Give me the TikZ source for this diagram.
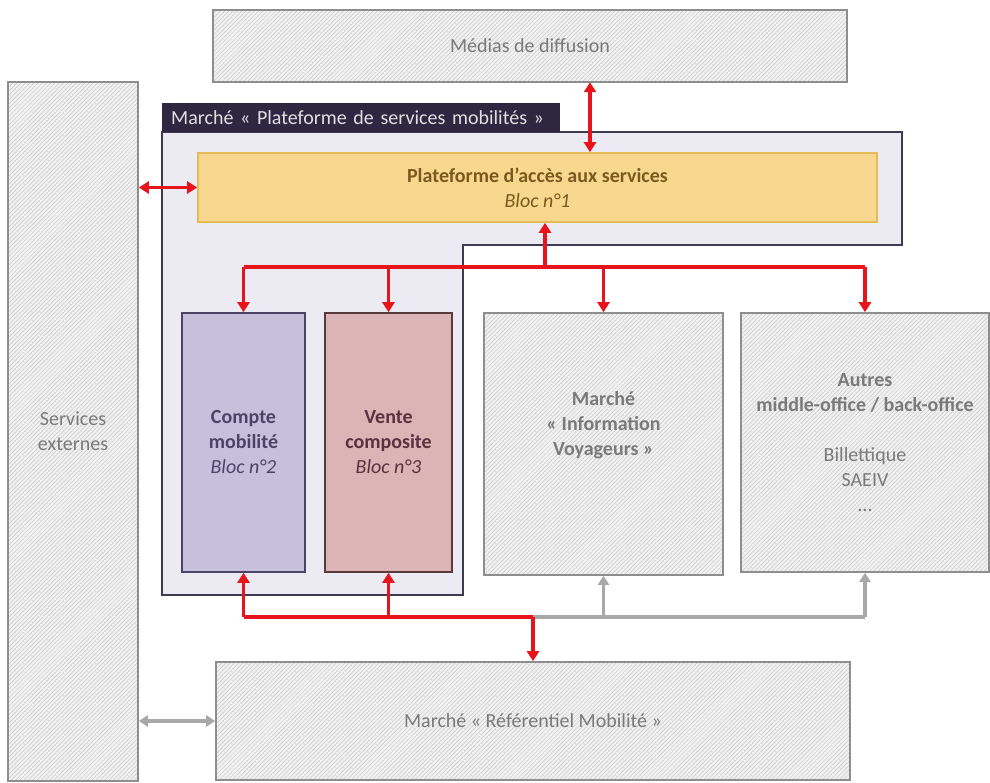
\documentclass[tikz,border=0pt]{standalone}
\usepackage{fontspec}
\setmainfont{Carlito}
\usetikzlibrary{arrows.meta,patterns.meta,calc}

\definecolor{rougeflux}{HTML}{E8141C}
\definecolor{grisflux}{HTML}{A8A8A8}
\definecolor{grisfond}{HTML}{F1F1F1}
\definecolor{grishachure}{HTML}{C8C8C8}
\definecolor{griscadre}{HTML}{8E8E8E}
\definecolor{gristexte}{HTML}{7A7A7A}
\definecolor{marchefond}{HTML}{ECEAF3}
\definecolor{marchecadre}{HTML}{3E3A52}
\definecolor{marchetitre}{HTML}{2E2742}
\definecolor{jaunefond}{HTML}{F8D88E}
\definecolor{jaunecadre}{HTML}{E3BC55}
\definecolor{jaunetexte}{HTML}{7A5A1E}
\definecolor{comptefond}{HTML}{C6C0DC}
\definecolor{comptecadre}{HTML}{4B4565}
\definecolor{ventefond}{HTML}{DDB4B5}
\definecolor{ventecadre}{HTML}{5A3B3D}
\definecolor{ventetexte}{HTML}{5B3040}

\tikzset{
  hachure/.style={draw=griscadre, line width=1.6pt, preaction={fill=grisfond},
    pattern={Lines[angle=45,distance=3pt,line width=0.5pt]}, pattern color=grishachure,
    text=gristexte, align=center, inner sep=0pt, font=\fontsize{20}{25}\selectfont},
  bloc/.style={line width=1.6pt, align=center, inner sep=0pt, font=\fontsize{20}{25}\selectfont},
  flux rouge/.style={draw=rougeflux, line width=3.5pt},
  fleche rouge/.style={flux rouge, -{Triangle[length=10pt,width=12pt]}},
  double rouge/.style={flux rouge, {Triangle[length=10pt,width=12pt]}-{Triangle[length=10pt,width=12pt]}},
  flux gris/.style={draw=grisflux, line width=3.5pt},
  fleche grise/.style={flux gris, -{Triangle[length=9pt,width=11pt]}},
  double grise/.style={flux gris, {Triangle[length=9pt,width=11pt]}-{Triangle[length=9pt,width=11pt]}},
}

\begin{document}
\begin{tikzpicture}[x=1pt,y=-1pt]
\useasboundingbox (0,0) rectangle (990,783);

% march\'e plateforme (forme en L)
\draw[fill=marchefond, draw=marchecadre, line width=1.8pt]
  (162,132) -- (902,132) -- (902,245) -- (463,245) -- (463,595) -- (162,595) -- cycle;
\node[fill=marchetitre, text=white!88!black, anchor=north west, minimum height=29pt,
  text width=380pt, inner xsep=9pt, inner ysep=0pt, align=left,
  font=\fontsize{20}{22}\selectfont] (titre) at (162,103)
  {Marché «~Plateforme de services mobilités~»};

% blocs
\node[hachure, minimum width=634pt, minimum height=72pt] (medias) at (530,46) {Médias de diffusion};
\node[hachure, minimum width=130pt, minimum height=699pt] (externes) at (73,431.5) {Services\\externes};
\node[bloc, fill=jaunefond, draw=jaunecadre, text=jaunetexte, minimum width=679pt, minimum height=69pt]
  (acces) at (537.5,187.5) {\textbf{Plateforme d’accès aux services}\\\textit{Bloc n°1}};
\node[bloc, fill=comptefond, draw=comptecadre, text=comptecadre, minimum width=123pt, minimum height=259pt]
  (compte) at (243.5,442.5) {\textbf{Compte}\\\textbf{mobilité}\\\textit{Bloc n°2}};
\node[bloc, fill=ventefond, draw=ventecadre, text=ventetexte, minimum width=127pt, minimum height=259pt]
  (vente) at (388.5,442.5) {\textbf{Vente}\\\textbf{composite}\\\textit{Bloc n°3}};
\node[hachure, minimum width=239pt, minimum height=262pt] (info) at (603.5,444) {};
\node[text=gristexte, align=center, font=\fontsize{20}{25}\selectfont\bfseries] at ($(info.center)+(0,-19)$)
  {Marché\\«~Information\\Voyageurs~»};
\node[hachure, minimum width=248pt, minimum height=259pt] (autres) at (865,442.5)
  {\textbf{Autres}\\\textbf{middle-office / back-office}\\[25pt]Billettique\\SAEIV\\…};
\node[hachure, minimum width=634pt, minimum height=118pt] (referentiel) at (533,721)
  {Marché «~Référentiel Mobilité~»};

% liaisons hautes
\coordinate (xmedias) at (590,0);
\draw[double rouge] (xmedias |- medias.south) -- (xmedias |- acces.north);
\draw[double rouge] (externes.east |- acces.west) -- (acces.west);

\coordinate (bushaut) at (545,267);
\draw[fleche rouge] (bushaut) -- (bushaut |- acces.south);
\draw[flux rouge] (compte.north |- bushaut) -- (autres.north |- bushaut);
\foreach \b in {compte,vente,info,autres}
  \draw[fleche rouge] (\b.north |- bushaut) -- (\b.north);

% liaisons basses
\coordinate (busbas) at (referentiel.north |- 0,617);
\draw[flux gris] (busbas) -- (autres.south |- busbas);
\foreach \b in {info,autres}
  \draw[fleche grise] (\b.south |- busbas) -- (\b.south);
\draw[flux rouge] (compte.south |- busbas) -- (busbas);
\foreach \b in {compte,vente}
  \draw[fleche rouge] (\b.south |- busbas) -- (\b.south);
\draw[fleche rouge] (busbas) -- (referentiel.north);

\draw[double grise] (externes.east |- referentiel.west) -- (referentiel.west);
\end{tikzpicture}
\end{document}
